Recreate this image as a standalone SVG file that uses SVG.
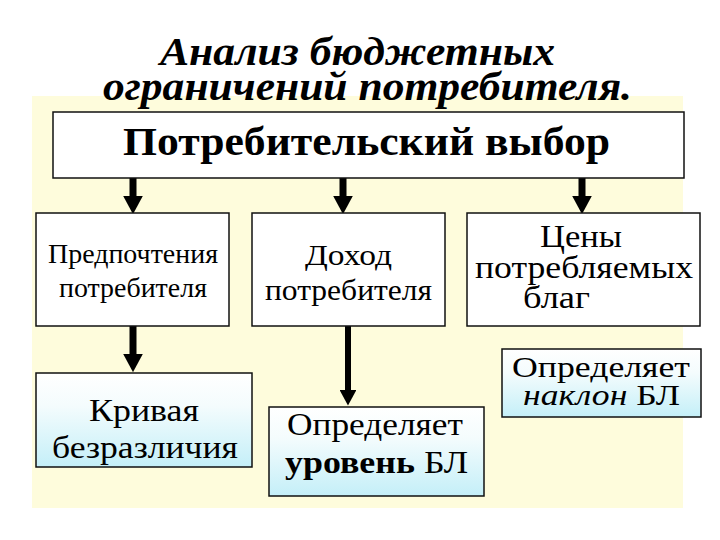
<svg xmlns="http://www.w3.org/2000/svg" width="720" height="540" viewBox="0 0 720 540">
<defs>
  <linearGradient id="cyan" x1="0" y1="0" x2="0" y2="1">
    <stop offset="0" stop-color="#ffffff"/>
    <stop offset="0.35" stop-color="#f4fcfd"/>
    <stop offset="1" stop-color="#c4eff8"/>
  </linearGradient>
  <marker id="head" viewBox="0 0 10 10" refX="0" refY="5" markerWidth="2.6" markerHeight="2.8" orient="auto" preserveAspectRatio="none">
    <path d="M0,0 L10,5 L0,10 z" fill="#000"/>
  </marker>
</defs>
<rect width="720" height="540" fill="#fff"/>
<rect x="32" y="96" width="651" height="412" fill="#fefcdc"/>

<g id="title">
  <text x="160" y="65" style="font-family:'Liberation Serif','Times New Roman',serif;font-size:41px;font-weight:bold;font-style:italic" textLength="395" lengthAdjust="spacingAndGlyphs">Анализ бюджетных</text>
  <text x="103" y="100" style="font-family:'Liberation Serif','Times New Roman',serif;font-size:41px;font-weight:bold;font-style:italic" textLength="529" lengthAdjust="spacingAndGlyphs">ограничений потребителя.</text>
</g>

<g id="connectors" stroke="#000" fill="none" marker-end="url(#head)">
  <path stroke-width="7" d="M133,178 V196"/>
  <path stroke-width="7" d="M343,178 V196"/>
  <path stroke-width="7" d="M582,178 V196"/>
  <path stroke-width="7" d="M133,326 V354"/>
  <path stroke-width="6" d="M348,326 V390"/>
</g>

<g id="choice">
  <rect x="53" y="112" width="631" height="66" fill="#fff" stroke="#111" stroke-width="1.5"/>
  <text x="123" y="155" style="font-family:'Liberation Serif','Times New Roman',serif;font-size:39px;font-weight:bold" textLength="487" lengthAdjust="spacingAndGlyphs">Потребительский выбор</text>
</g>

<g id="preferences">
  <rect x="36" y="213" width="193" height="113" fill="#fff" stroke="#111" stroke-width="1.5"/>
  <text x="48" y="263" style="font-family:'Liberation Serif','Times New Roman',serif;font-size:28px" textLength="170" lengthAdjust="spacingAndGlyphs">Предпочтения</text>
  <text x="59" y="297" style="font-family:'Liberation Serif','Times New Roman',serif;font-size:28px" textLength="148" lengthAdjust="spacingAndGlyphs">потребителя</text>
</g>

<g id="income">
  <rect x="252" y="213" width="193" height="113" fill="#fff" stroke="#111" stroke-width="1.5"/>
  <text x="305" y="265" style="font-family:'Liberation Serif','Times New Roman',serif;font-size:30px" textLength="87" lengthAdjust="spacingAndGlyphs">Доход</text>
  <text x="265" y="300" style="font-family:'Liberation Serif','Times New Roman',serif;font-size:30px" textLength="167" lengthAdjust="spacingAndGlyphs">потребителя</text>
</g>

<g id="prices">
  <rect x="467" y="213" width="233" height="113" fill="#fff" stroke="#111" stroke-width="1.5"/>
  <text x="540" y="247" style="font-family:'Liberation Serif','Times New Roman',serif;font-size:31px" textLength="82" lengthAdjust="spacingAndGlyphs">Цены</text>
  <text x="475" y="278" style="font-family:'Liberation Serif','Times New Roman',serif;font-size:31px" textLength="218" lengthAdjust="spacingAndGlyphs">потребляемых</text>
  <text x="523" y="308" style="font-family:'Liberation Serif','Times New Roman',serif;font-size:31px" textLength="67" lengthAdjust="spacingAndGlyphs">благ</text>
</g>

<g id="indifference">
  <rect x="36" y="373" width="216" height="94" fill="url(#cyan)" stroke="#111" stroke-width="1.5"/>
  <text x="89" y="421" style="font-family:'Liberation Serif','Times New Roman',serif;font-size:32px" textLength="110" lengthAdjust="spacingAndGlyphs">Кривая</text>
  <text x="52" y="458" style="font-family:'Liberation Serif','Times New Roman',serif;font-size:32px" textLength="186" lengthAdjust="spacingAndGlyphs">безразличия</text>
</g>

<g id="level">
  <rect x="269" y="407" width="215" height="89" fill="url(#cyan)" stroke="#111" stroke-width="1.5"/>
  <text x="287" y="435" style="font-family:'Liberation Serif','Times New Roman',serif;font-size:31px" textLength="176" lengthAdjust="spacingAndGlyphs">Определяет</text>
  <text x="285" y="473" style="font-family:'Liberation Serif','Times New Roman',serif;font-size:31px" textLength="183" lengthAdjust="spacingAndGlyphs"><tspan style="font-weight:bold">уровень</tspan> БЛ</text>
</g>

<g id="slope">
  <rect x="502" y="349" width="199" height="68" fill="url(#cyan)" stroke="#111" stroke-width="1.5"/>
  <text x="512" y="377" style="font-family:'Liberation Serif','Times New Roman',serif;font-size:30px" textLength="178" lengthAdjust="spacingAndGlyphs">Определяет</text>
  <text x="523" y="405" style="font-family:'Liberation Serif','Times New Roman',serif;font-size:30px" textLength="157" lengthAdjust="spacingAndGlyphs"><tspan style="font-style:italic">наклон</tspan> БЛ</text>
</g>
</svg>
